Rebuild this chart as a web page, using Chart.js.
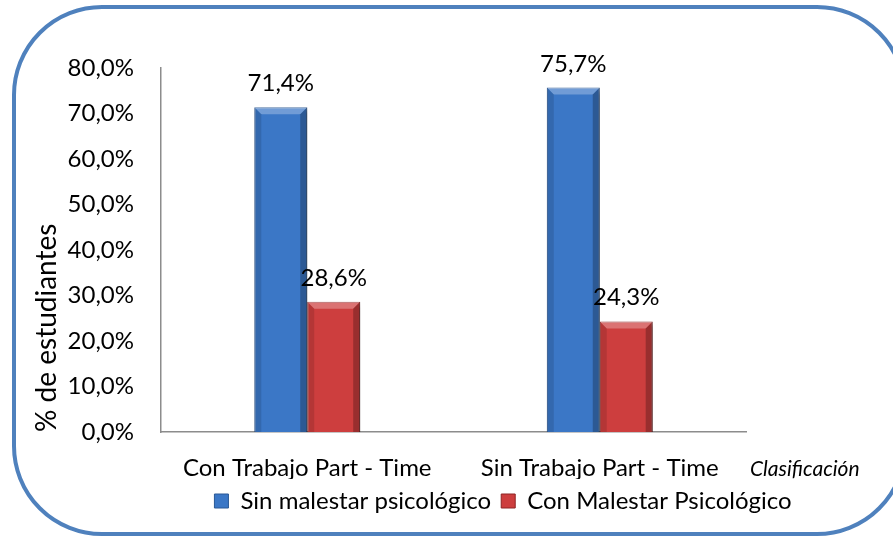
<!DOCTYPE html>
<html>
<head>
<meta charset="utf-8">
<script src="https://cdn.jsdelivr.net/npm/chart.js@4.4.1/dist/chart.umd.min.js"></script>
<style>
  html, body { margin: 0; padding: 0; background: #fff; overflow: hidden; width: 893px; height: 539px; }
  #frame { position: absolute; left: 12px; top: 5px; width: 895px; height: 531px; box-sizing: border-box;
           border: 4px solid #4f81bd; border-radius: 90px; }
  #wrap { position: absolute; left: 0; top: 0; width: 1006px; height: 539px; }
</style>
</head>
<body>
<div id="frame"></div>
<div id="wrap"><canvas id="chart" width="1006" height="539"></canvas></div>
<script>
// datos del grafico
const categories = ['Con Trabajo Part - Time', 'Sin Trabajo Part - Time'];
const seriesNames = ['Sin malestar psicológico', 'Con Malestar Psicológico'];
const sinMalestar = [71.4, 75.7];
const conMalestar = [28.6, 24.3];
const yTicks = [0, 10, 20, 30, 40, 50, 60, 70, 80];

const FONT = 'Lato';
const fmtPct = (v) => v.toFixed(1).replace('.', ',') + '%';

const palette = [
    { body: '#3b77c6', border: '#2a5896' },
    { body: '#cd3e3e', border: '#8e2424' }
];

function poly(c, pts, fill) {
    c.beginPath();
    c.moveTo(pts[0][0], pts[0][1]);
    pts.slice(1).forEach(p => c.lineTo(p[0], p[1]));
    c.closePath();
    c.fillStyle = fill;
    c.fill();
}

// sombra + biselado de las barras
const bevelPlugin = {
    id: 'bevel',
    beforeDatasetsDraw(chart) {
        const c = chart.ctx;
        c.save();
        c.shadowColor = 'rgba(0,0,0,0.35)';
        c.shadowBlur = 5;
        c.shadowOffsetX = 3;
        c.shadowOffsetY = 3;
    },
    afterDatasetsDraw(chart) {
        const c = chart.ctx;
        c.restore();
        chart.data.datasets.forEach((ds, i) => {
            chart.getDatasetMeta(i).data.forEach(bar => {
                const l = bar.x - bar.width / 2, r = bar.x + bar.width / 2;
                const t = bar.y, b = bar.base, d = 7;
                poly(c, [[l, t], [r, t], [r - d, t + d], [l + d, t + d]], 'rgba(255,255,255,0.28)');
                poly(c, [[l, t], [l + d, t + d], [l + d, b], [l, b]], 'rgba(0,0,0,0.12)');
                poly(c, [[r, t], [r - d, t + d], [r - d, b], [r, b]], 'rgba(0,0,0,0.25)');
            });
        });
    }
};

// etiquetas de valor sobre las barras + titulo "Clasificación"
const labelsPlugin = {
    id: 'valueLabels',
    afterDraw(chart) {
        const c = chart.ctx;
        c.save();
        c.fillStyle = '#000';
        c.font = `24px ${FONT}`;
        c.textAlign = 'center';
        c.textBaseline = 'alphabetic';
        chart.data.datasets.forEach((ds, i) => {
            chart.getDatasetMeta(i).data.forEach((bar, j) => {
                c.fillText(fmtPct(ds.data[j]), bar.x, bar.y - 16);
            });
        });
        const xs = chart.scales.x;
        c.font = `italic 21px ${FONT}`;
        c.textAlign = 'left';
        c.textBaseline = 'middle';
        c.fillText('Clasificación', chart.chartArea.right + 4, xs.top + 37);
        c.restore();
    }
};

const tickFont = { family: FONT, size: 24 };

new Chart(document.getElementById('chart'), {
    type: 'bar',
    data: {
        labels: categories,
        datasets: [
            { label: seriesNames[0], data: sinMalestar, backgroundColor: palette[0].body,
              borderColor: palette[0].border, borderWidth: 1 },
            { label: seriesNames[1], data: conMalestar, backgroundColor: palette[1].body,
              borderColor: palette[1].border, borderWidth: 1 }
        ]
    },
    options: {
        responsive: false,
        animation: false,
        datasets: { bar: { categoryPercentage: 0.362, barPercentage: 1 } },
        layout: { padding: { top: 68, left: 0, right: 0, bottom: 16 } },
        plugins: {
            legend: {
                position: 'bottom',
                labels: { font: tickFont, color: '#000', boxWidth: 14, boxHeight: 14, padding: 10 }
            },
            tooltip: { enabled: false }
        },
        scales: {
            x: {
                grid: { display: false, drawTicks: false },
                border: { color: '#8c8c8c', width: 1.5 },
                ticks: { font: tickFont, color: '#000', padding: 22 },
                afterFit(s) { s.height = 47; }
            },
            y: {
                min: 0,
                max: 80,
                afterBuildTicks(s) { s.ticks = yTicks.map(v => ({ value: v })); },
                grid: { display: false, drawTicks: false },
                border: { color: '#8c8c8c', width: 1.5 },
                ticks: { font: tickFont, color: '#000', padding: 27, callback: (v) => fmtPct(v) },
                title: {
                    display: true, text: '% de estudiantes', align: 'start', color: '#000',
                    font: { family: FONT, size: 28 }, padding: { top: 30, bottom: 0 }
                },
                afterFit(s) { s.width = 161; }
            },
            // eje vacio a la derecha, solo para reservar espacio
            pad: {
                type: 'linear', position: 'right', display: true,
                grid: { display: false, drawTicks: false },
                border: { display: false },
                ticks: { display: false },
                afterFit(s) { s.width = 260; }
            }
        }
    },
    plugins: [bevelPlugin, labelsPlugin]
});
</script>
</body>
</html>
